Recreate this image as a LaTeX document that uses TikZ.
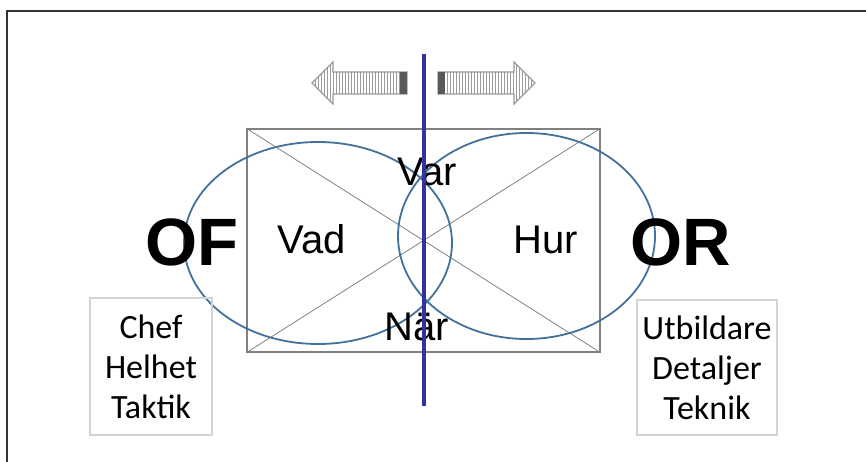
\documentclass[tikz,border=0pt]{standalone}
\usepackage{fontspec}
\setmainfont{Liberation Sans}
\newfontfamily\calib{Carlito}
\usetikzlibrary{shapes.geometric,patterns}
\definecolor{ellblue}{HTML}{41719C}
\definecolor{axisblue}{HTML}{3232A0}
\definecolor{rectgrey}{HTML}{808080}
\definecolor{boxgrey}{HTML}{D4D4D4}
\definecolor{arrgrey}{HTML}{9A9A9A}
\tikzset{
  ell/.style={ellipse, draw=ellblue, line width=1.8pt, inner sep=0pt},
  bigtxt/.style={font=\fontsize{67}{70}\selectfont\bfseries, anchor=base, inner sep=0pt},
  midtxt/.style={font=\fontsize{40}{44}\selectfont, anchor=base, inner sep=0pt},
  rolebox/.style={draw=boxgrey, line width=1.2pt, inner sep=0pt, align=center,
    font=\calib\fontsize{34}{40}\selectfont},
  fatarrow/.style={draw=arrgrey, line width=1.2pt, pattern=vertical lines, pattern color=arrgrey},
}
\begin{document}
\begin{tikzpicture}[x=1pt,y=-1pt]
\useasboundingbox (0,0) rectangle (866,462);
% outer frame (top and left only)
\coordinate (fbl) at (7,462);
\coordinate (ftl) at (7,11);
\coordinate (ftr) at (866,11);
\draw[line width=2pt, black!80] (fbl) -- (ftl) -- (ftr);
% rectangle with diagonals
\node[draw=rectgrey, line width=1.5pt, minimum width=353pt, minimum height=223pt, inner sep=0pt] (rect) at (423.5,240.5) {};
\draw[rectgrey, line width=0.8pt] (rect.north west) -- (rect.south east);
\draw[rectgrey, line width=0.8pt] (rect.south west) -- (rect.north east);
% ellipses
\node[ell, minimum width=268pt, minimum height=202pt] (lell) at (318,243) {};
\node[ell, minimum width=257pt, minimum height=206pt] (rell) at (526.5,236) {};
% arrows
\draw[fatarrow] (312,83) -- (333,62) -- (333,72) -- (407,72) -- (407,94) -- (333,94) -- (333,104) -- cycle;
\fill[black!65] (400,72) rectangle (407,94);
\draw[fatarrow] (535,83) -- (514,62) -- (514,72) -- (438,72) -- (438,94) -- (514,94) -- (514,104) -- cycle;
\fill[black!65] (438,72) rectangle (445,94);
% texts
\node[bigtxt] (of) at (192,265) {OF};
\node[bigtxt] (or) at (681,265) {OR};
\node[midtxt] (vad) at (312,253) {Vad};
\node[midtxt] (hur) at (546,253) {Hur};
\node[midtxt] (var) at (427,186) {Var};
\node[midtxt] (nar) at (417,340) {När};
% vertical axis
\coordinate (atop) at (424,54);
\coordinate (abot) at (424,406);
\draw[axisblue, line width=3.5pt] (atop) -- (abot);
% role boxes
\node[rolebox, minimum width=122pt, minimum height=137pt] (lbox) at (151,366.5) {Chef\\Helhet\\Taktik};
\node[rolebox, minimum width=140pt, minimum height=135pt] (rbox) at (707,367.5) {Utbildare\\Detaljer\\Teknik};
\end{tikzpicture}
\end{document}
